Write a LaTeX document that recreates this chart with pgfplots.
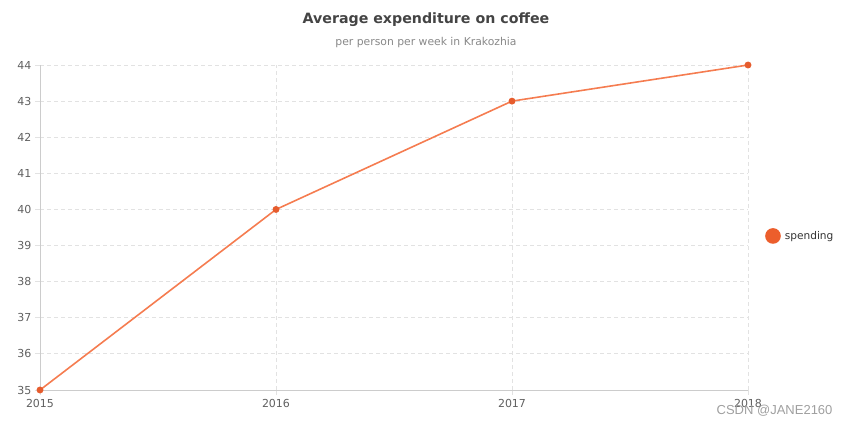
\documentclass[border=0pt]{standalone}
\usepackage{pgfplots}
\pgfplotsset{compat=1.18}
\usepackage{fontspec}
\setmainfont{DejaVu Sans}
\newfontfamily\wmfont{Liberation Sans}
\definecolor{lineC}{RGB}{245,124,80}
\definecolor{markC}{RGB}{230,92,45}
\definecolor{legC}{RGB}{236,94,44}
\definecolor{tickC}{RGB}{96,96,96}
\definecolor{gridC}{RGB}{226,226,226}
\definecolor{axisC}{RGB}{204,204,204}
\definecolor{titleC}{RGB}{68,68,68}
\definecolor{subC}{RGB}{136,136,136}
\begin{document}
\begin{tikzpicture}
\useasboundingbox (-40pt,-39pt) rectangle (809pt,390pt);
\begin{axis}[
  at={(0pt,0pt)}, anchor=south west,
  scale only axis, width=708pt, height=325pt,
  xmin=2015, xmax=2018, ymin=35, ymax=44,
  xtick={2015,2016,2017,2018},
  ytick={35,36,37,38,39,40,41,42,43,44},
  /pgf/number format/1000 sep={},
  /pgf/number format/assume math mode=true,
  axis x line=bottom, axis y line=left,
  axis line style={-, draw=axisC, line width=0.8pt},
  tick align=outside, major tick length=5pt,
  tick style={draw=gridC, line width=0.8pt},
  xmajorgrids, ymajorgrids,
  major grid style={draw=gridC, line width=0.8pt, dash pattern=on 4pt off 3pt},
  ticklabel style={font=\fontsize{11}{13}\selectfont, text=tickC},
  xticklabel style={yshift=-1pt},
  clip=false,
  legend style={at={(1.024,0.474)}, anchor=west, draw=none, fill=none, inner sep=0pt,
    font=\fontsize{10.6}{12}\selectfont, text=black!80,
    nodes={inner xsep=4pt}},
  legend image code/.code={\fill[legC] (7pt,0) circle (7pt);},
]
\addplot[lineC, line width=1.6pt, mark=*, mark size=2.6pt, mark options={fill=markC, draw=markC}]
  coordinates {(2015,35) (2016,40) (2017,43) (2018,44)};
\addlegendentry{spending}
\end{axis}
\node[font=\bfseries\fontsize{14.2}{16}\selectfont, text=titleC] at (386pt,370pt) {Average expenditure on coffee};
\node[font=\fontsize{10.8}{12}\selectfont, text=subC] at (386pt,347pt) {per person per week in Krakozhia};
\node[font=\wmfont\fontsize{13}{15}\selectfont, text=gray!75, anchor=east] at (796pt,-21pt) {CSDN @JANE2160};
\end{tikzpicture}
\end{document}
